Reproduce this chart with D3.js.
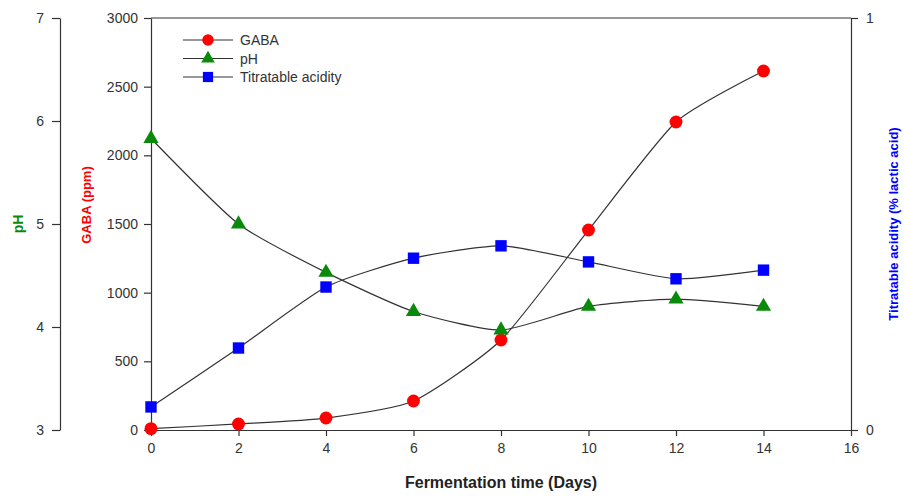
<!DOCTYPE html>
<html>
<head>
<meta charset="utf-8">
<script src="https://cdn.jsdelivr.net/npm/d3@7/dist/d3.min.js"></script>
<style>
  body { margin: 0; background: #fff; }
  svg { display: block; font-family: "Liberation Sans", Arial, sans-serif; }
</style>
</head>
<body>
<div id="chart"></div>
<script>
const days    = [0, 2, 4, 6, 8, 10, 12, 14];
const gaba    = [10, 44, 87, 211, 655, 1456, 2243, 2614];
const ph      = [5.83, 5.0, 4.53, 4.15, 3.97, 4.20, 4.27, 4.20];
const acidity = [0.056, 0.199, 0.347, 0.417, 0.447, 0.408, 0.367, 0.388];

const xTicks    = [0, 2, 4, 6, 8, 10, 12, 14, 16];
const gabaTicks = [0, 500, 1000, 1500, 2000, 2500, 3000];
const phTicks   = [3, 4, 5, 6, 7];
const taTicks   = [0, 1];

const W = 905, H = 499;
const plotL = 151, plotR = 851, plotT = 18, plotB = 430;
const phAxisX = 60;

const RED = "#ff0000", GREEN = "#0a8a0a", BLUE = "#0000ff";
const LINE = "#333", TEXT = "#333";
const fmt = d3.format("d");

const svg = d3.select("#chart").append("svg")
  .attr("width", W).attr("height", H);

const x  = d3.scaleLinear().domain([0, 16]).range([plotL, plotR]);
const yG = d3.scaleLinear().domain([0, 3000]).range([plotB, plotT]);
const yP = d3.scaleLinear().domain([3, 7]).range([plotB, plotT]);
const yT = d3.scaleLinear().domain([0, 1]).range([plotB, plotT]);

function style(g) {
  g.selectAll(".domain").attr("stroke", LINE).attr("stroke-width", 1.2);
  g.selectAll(".tick line").attr("stroke", LINE).attr("stroke-width", 1.2);
  g.selectAll(".tick text").attr("fill", TEXT).attr("font-size", 14)
    .attr("font-family", "Liberation Sans, Arial, sans-serif");
}

// frame top line
svg.append("line")
  .attr("x1", plotL).attr("x2", plotR).attr("y1", plotT).attr("y2", plotT)
  .attr("stroke", LINE).attr("stroke-width", 1.2);

svg.append("g").attr("transform", `translate(0,${plotB})`)
  .call(d3.axisBottom(x).tickValues(xTicks).tickFormat(fmt).tickSize(6).tickSizeOuter(0).tickPadding(7))
  .call(style);

svg.append("g").attr("transform", `translate(${plotL},0)`)
  .call(d3.axisLeft(yG).tickValues(gabaTicks).tickFormat(fmt).tickSize(7).tickSizeOuter(0).tickPadding(6))
  .call(style);

svg.append("g").attr("transform", `translate(${phAxisX},0)`)
  .call(d3.axisLeft(yP).tickValues(phTicks).tickFormat(fmt).tickSize(8).tickSizeOuter(0).tickPadding(8))
  .call(style);

svg.append("g").attr("transform", `translate(${plotR},0)`)
  .call(d3.axisRight(yT).tickValues(taTicks).tickFormat(fmt).tickSize(7).tickSizeOuter(0).tickPadding(8))
  .call(style);

// axis titles
svg.append("text")
  .attr("x", (plotL + plotR) / 2).attr("y", 488)
  .attr("text-anchor", "middle").attr("font-size", 16).attr("font-weight", "bold")
  .attr("fill", "#222").text("Fermentation time (Days)");

svg.append("text")
  .attr("transform", `translate(23,224) rotate(-90)`)
  .attr("text-anchor", "middle").attr("font-size", 14).attr("font-weight", "bold")
  .attr("fill", GREEN).text("pH");

svg.append("text")
  .attr("transform", `translate(91,205) rotate(-90)`)
  .attr("text-anchor", "middle").attr("font-size", 13).attr("font-weight", "bold")
  .attr("fill", RED).text("GABA (ppm)");

svg.append("text")
  .attr("transform", `translate(898,224) rotate(-90)`)
  .attr("text-anchor", "middle").attr("font-size", 13).attr("font-weight", "bold")
  .attr("fill", BLUE).text("Titratable acidity (% lactic acid)");

// series
const series = [
  { name: "GABA", values: gaba, y: yG, color: RED, shape: d3.symbolCircle, size: 130 },
  { name: "pH", values: ph, y: yP, color: GREEN, shape: d3.symbolTriangle, size: 100 },
  { name: "Titratable acidity", values: acidity, y: yT, color: BLUE, shape: d3.symbolSquare, size: 130 }
];

series.forEach(s => {
  const pts = days.map((d, i) => [x(d), s.y(s.values[i])]);
  svg.append("path")
    .attr("d", d3.line().curve(d3.curveCardinal.tension(0.4))(pts))
    .attr("fill", "none").attr("stroke", LINE).attr("stroke-width", 1.2);
});

series.forEach(s => {
  svg.append("g").selectAll("path")
    .data(days.map((d, i) => [x(d), s.y(s.values[i])]))
    .join("path")
      .attr("transform", p => `translate(${p[0]},${p[1]})`)
      .attr("d", d3.symbol().type(s.shape).size(s.size))
      .attr("fill", s.color);
});

// legend
const legend = svg.append("g").attr("transform", "translate(183,40)");
series.forEach((s, i) => {
  const g = legend.append("g").attr("transform", `translate(0,${i * 18.5})`);
  g.append("line").attr("x1", 0).attr("x2", 50).attr("y1", 0).attr("y2", 0)
    .attr("stroke", LINE).attr("stroke-width", 1.2);
  g.append("path").attr("transform", "translate(25,0)")
    .attr("d", d3.symbol().type(s.shape).size(s.size * 0.8))
    .attr("fill", s.color);
  g.append("text").attr("x", 57).attr("y", 5)
    .attr("font-size", 14).attr("fill", TEXT).text(s.name);
});
</script>
</body>
</html>
